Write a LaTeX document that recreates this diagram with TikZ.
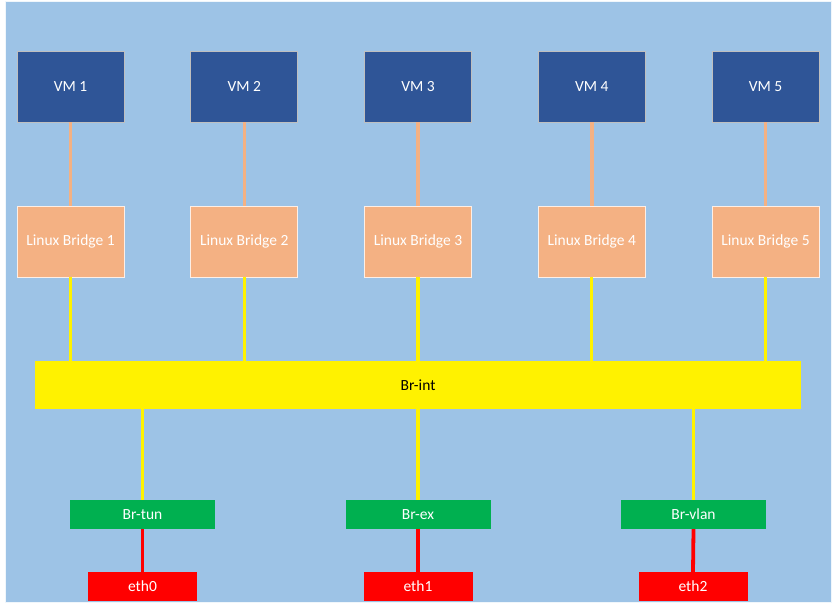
\documentclass[tikz,border=0pt]{standalone}
\usepackage{fontspec}
\setmainfont{Carlito}
\usetikzlibrary{positioning, calc}
\definecolor{bgblue}{HTML}{9DC3E6}
\definecolor{vmblue}{HTML}{2F5597}
\definecolor{lbsalmon}{HTML}{F4B183}
\definecolor{brgreen}{HTML}{00B050}
\begin{document}
\begin{tikzpicture}[x=1pt,y=-1pt,font=\fontsize{15.5}{18}\selectfont,
vmbox/.style={draw=white!75!black, line width=0.6pt, fill=vmblue, text=white, minimum width=107pt, minimum height=71pt, inner sep=0pt},
lbbox/.style={draw=white!80!lbsalmon, line width=0.6pt, fill=lbsalmon, text=white, minimum width=107pt, minimum height=71pt, inner sep=0pt},
brbox/.style={fill=brgreen, text=white, minimum width=145pt, minimum height=29pt, inner sep=0pt},
ethbox/.style={fill=red, text=white, minimum width=109pt, minimum height=29pt, inner sep=0pt},
vmlink/.style={draw=lbsalmon, line width=3.5pt},
intlink/.style={draw=yellow, line width=3.4pt},
ethlink/.style={draw=red, line width=3.8pt}]
\useasboundingbox (0,0) rectangle (837,609);
\fill[bgblue, draw=white!85!bgblue, line width=1pt] (5,2) rectangle (831,602);
\foreach \i in {1,...,5}
	{\node[vmbox] (vm\i) at ({70.5+173.75*(\i-1)}, 86.5) {VM \i};
	\node[lbbox] (lb\i) at ({70.5+173.75*(\i-1)}, 241.5) {Linux Bridge \i};}
\node[fill=yellow, minimum width=766pt, minimum height=48pt, inner sep=0pt] (brint) at (418, 385) {Br-int};
\node[brbox] (brtun) at (142.5, 514.5) {Br-tun}; \node[brbox] (brex) at (418, 514.5) {Br-ex}; \node[brbox] (brvlan) at (693.5, 514.5) {Br-vlan};
\node[ethbox] (eth0) at (142.5, 586.5) {eth0}; \node[ethbox] (eth1) at (418, 586.5) {eth1}; \node[ethbox] (eth2) at (693, 586.5) {eth2};
\foreach \i in {1,...,5}
	{\draw[vmlink] (vm\i.south) -- (lb\i.north);
	\draw[intlink] (lb\i.south) -- (lb\i.south |- brint.north);}
\foreach \b/\e in {brtun/eth0, brex/eth1, brvlan/eth2}
	{\draw[intlink] (\b.north |- brint.south) -- (\b.north);
	\draw[ethlink] (\b.south) -- (\e.north);}
\end{tikzpicture}
\end{document}
